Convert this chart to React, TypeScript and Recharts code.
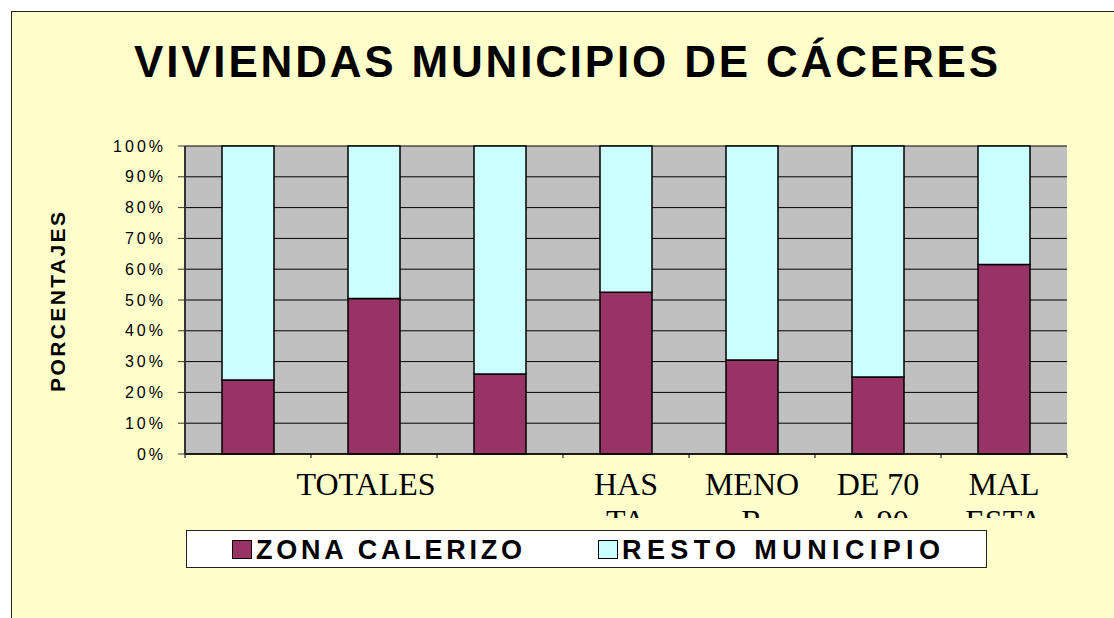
import { BarChart, Bar, XAxis, YAxis, CartesianGrid } from 'recharts';

const CATEGORIES = ['cat1', 'TOTALES', 'cat3', 'HASTA', 'MENOR', 'DE 70 A 90', 'MAL ESTADO'];
const LABEL_TOP = ['', 'TOTALES', '', 'HAS', 'MENO', 'DE 70', 'MAL'];
const LABEL_BOTTOM = ['', '', '', 'TA', 'R', 'A 90', 'ESTA'];
const ZONA_CALERIZO = [24, 50.5, 26, 52.5, 30.5, 25, 61.5];
const RESTO_MUNICIPIO = [76, 49.5, 74, 47.5, 69.5, 75, 38.5];
const Y_TICKS = [0, 10, 20, 30, 40, 50, 60, 70, 80, 90, 100];

const ZONA_COLOR = '#993366';
const RESTO_COLOR = '#CCFFFF';
const W = 1114;
const H = 618;
const PLOT_LEFT = 185;
const PLOT_RIGHT = 1067;
const BAND = (PLOT_RIGHT - PLOT_LEFT) / CATEGORIES.length;

const data = CATEGORIES.map((name, i) => ({
  name,
  zona: ZONA_CALERIZO[i],
  resto: RESTO_MUNICIPIO[i],
}));

function CategoryTick(props: any) {
  const { x, y, index } = props;
  const clipId = `tick-clip-${index}`;
  const left = x - BAND / 2;
  const right = x + BAND / 2;
  // Excel drew the first wrapped label slightly left of centre
  const dx = index === 1 ? -8 : 0;
  return (
    <g>
      <defs>
        <clipPath id={clipId}>
          <rect x={x - BAND} y={y} width={BAND * 2} height={64} />
        </clipPath>
      </defs>
      <line x1={left} y1={y} x2={left} y2={y + 4} stroke="#000" />
      {index === CATEGORIES.length - 1 && (
        <line x1={right} y1={y} x2={right} y2={y + 4} stroke="#000" />
      )}
      <g clipPath={`url(#${clipId})`}>
        <text
          x={x + dx}
          y={y + 41}
          textAnchor="middle"
          fontFamily="'Liberation Serif', 'Times New Roman', serif"
          fontSize={32}
          fill="#000"
        >
          {LABEL_TOP[index]}
        </text>
        <text
          x={x + dx}
          y={y + 78}
          textAnchor="middle"
          fontFamily="'Liberation Serif', 'Times New Roman', serif"
          fontSize={32}
          fill="#000"
        >
          {LABEL_BOTTOM[index]}
        </text>
      </g>
    </g>
  );
}

export default function App() {
  const sans = "'Liberation Sans', Arial, sans-serif";
  return (
    <div
      style={{
        position: 'absolute',
        left: 0,
        top: 0,
        width: W,
        height: H,
        background: '#fff',
        overflow: 'hidden',
      }}
    >
      <div
        style={{
          position: 'absolute',
          left: 11,
          top: 11,
          width: W,
          height: H,
          background: '#FFFFCC',
          border: '1px solid #222',
        }}
      />
      <div style={{ position: 'absolute', left: 0, top: 0 }}>
        <BarChart
          width={W}
          height={H}
          data={data}
          margin={{ top: 146, right: W - PLOT_RIGHT, bottom: 134, left: PLOT_LEFT - 60 }}
          barSize={52}
        >
          <CartesianGrid
            vertical={false}
            stroke="#000"
            strokeWidth={1}
            fill="#C0C0C0"
            fillOpacity={1}
          />
          <XAxis
            dataKey="name"
            height={30}
            interval={0}
            tickLine={false}
            tickSize={0}
            tickMargin={0}
            axisLine={{ stroke: '#000', strokeWidth: 1.5 }}
            tick={<CategoryTick />}
          />
          <YAxis
            width={60}
            domain={[0, 100]}
            ticks={Y_TICKS}
            interval={0}
            tickSize={7}
            tickMargin={12}
            tickFormatter={(v) => `${v}%`}
            axisLine={{ stroke: '#333', strokeWidth: 2 }}
            tickLine={{ stroke: '#333' }}
            tick={{ fill: '#000', fontSize: 16, fontFamily: sans, letterSpacing: 3 }}
          />
          <YAxis
            yAxisId="frame"
            orientation="right"
            width={0}
            domain={[0, 100]}
            tick={false}
            tickLine={false}
            axisLine={{ stroke: '#333', strokeWidth: 2 }}
          />
          <Bar
            dataKey="zona"
            stackId="a"
            fill={ZONA_COLOR}
            stroke="#000"
            strokeWidth={1.5}
            isAnimationActive={false}
          />
          <Bar
            dataKey="resto"
            stackId="a"
            fill={RESTO_COLOR}
            stroke="#000"
            strokeWidth={1.5}
            isAnimationActive={false}
          />
        </BarChart>
      </div>
      <svg
        width={W}
        height={H}
        style={{ position: 'absolute', left: 0, top: 0, pointerEvents: 'none' }}
      >
        <text
          x={134}
          y={77}
          fontFamily={sans}
          fontWeight="bold"
          fontSize={44}
          textLength={864}
          lengthAdjust="spacing"
          fill="#000"
        >
          VIVIENDAS MUNICIPIO DE CÁCERES
        </text>
        <text
          transform="translate(65 302) rotate(-90)"
          textAnchor="middle"
          fontFamily={sans}
          fontWeight="bold"
          fontSize={21}
          textLength={180}
          lengthAdjust="spacing"
          fill="#000"
        >
          PORCENTAJES
        </text>
        <rect x={186.5} y={530.5} width={800} height={37} fill="#fff" stroke="#222" />
        <rect x={232.5} y={540.5} width={19} height={18} fill={ZONA_COLOR} stroke="#000" />
        <text
          x={256}
          y={559}
          fontFamily={sans}
          fontWeight="bold"
          fontSize={27}
          textLength={266}
          lengthAdjust="spacing"
          fill="#000"
        >
          ZONA CALERIZO
        </text>
        <rect x={598.5} y={540.5} width={19} height={18} fill={RESTO_COLOR} stroke="#000" />
        <text
          x={622}
          y={559}
          fontFamily={sans}
          fontWeight="bold"
          fontSize={27}
          textLength={318}
          lengthAdjust="spacing"
          fill="#000"
        >
          RESTO MUNICIPIO
        </text>
      </svg>
    </div>
  );
}
